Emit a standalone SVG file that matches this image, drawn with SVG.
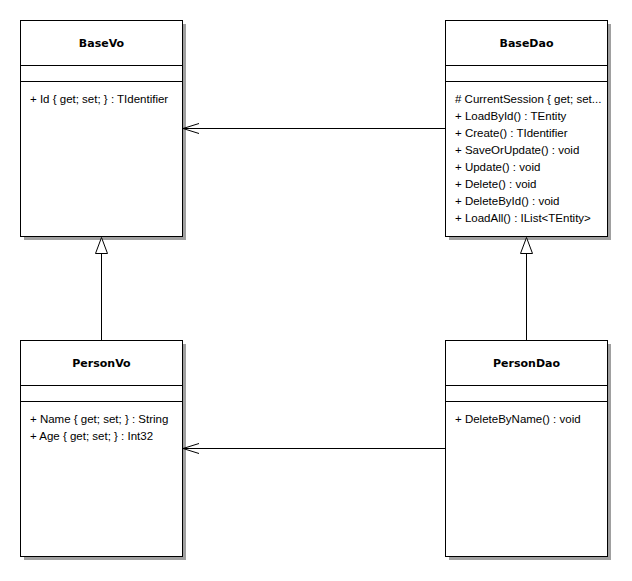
<svg xmlns="http://www.w3.org/2000/svg" width="632" height="581" viewBox="0 0 632 581">
  <style>
    .shadow { fill: #a0a0a0; }
    .box { fill: #ffffff; stroke: #000000; stroke-width: 1; }
    .sep { stroke: #000000; stroke-width: 1; }
    .title { font-family: "DejaVu Sans", Tahoma, sans-serif; font-size: 11px; font-weight: bold; text-anchor: middle; fill: #000; }
    .member { font-family: "Liberation Sans", Arial, sans-serif; font-size: 11.5px; fill: #000; }
    .link { stroke: #000000; stroke-width: 1; fill: none; }
    .head { stroke: #000000; stroke-width: 1; fill: #ffffff; }
  </style>
  <rect width="632" height="581" fill="#ffffff"/>

  <g id="BaseVo">
    <rect class="shadow" x="24" y="24" width="162" height="216"/>
    <rect class="box" x="20.5" y="20.5" width="162" height="216"/>
    <line class="sep" x1="20.5" y1="65.5" x2="182.5" y2="65.5"/>
    <line class="sep" x1="20.5" y1="81.5" x2="182.5" y2="81.5"/>
    <text class="title" x="101.5" y="47">BaseVo</text>
    <text class="member" x="30" y="103">+ Id { get; set; } : TIdentifier</text>
  </g>

  <g id="BaseDao">
    <rect class="shadow" x="449" y="24" width="162" height="216"/>
    <rect class="box" x="445.5" y="20.5" width="162" height="216"/>
    <line class="sep" x1="445.5" y1="65.5" x2="607.5" y2="65.5"/>
    <line class="sep" x1="445.5" y1="81.5" x2="607.5" y2="81.5"/>
    <text class="title" x="526.5" y="47">BaseDao</text>
    <text class="member" x="455" y="103"># CurrentSession { get; set...</text>
    <text class="member" x="455" y="120">+ LoadById() : TEntity</text>
    <text class="member" x="455" y="137">+ Create() : TIdentifier</text>
    <text class="member" x="455" y="154">+ SaveOrUpdate() : void</text>
    <text class="member" x="455" y="171">+ Update() : void</text>
    <text class="member" x="455" y="188">+ Delete() : void</text>
    <text class="member" x="455" y="205">+ DeleteById() : void</text>
    <text class="member" x="455" y="222">+ LoadAll() : IList&lt;TEntity&gt;</text>
  </g>

  <g id="PersonVo">
    <rect class="shadow" x="24" y="344" width="162" height="216"/>
    <rect class="box" x="20.5" y="340.5" width="162" height="216"/>
    <line class="sep" x1="20.5" y1="385.5" x2="182.5" y2="385.5"/>
    <line class="sep" x1="20.5" y1="401.5" x2="182.5" y2="401.5"/>
    <text class="title" x="101.5" y="367">PersonVo</text>
    <text class="member" x="30" y="423">+ Name { get; set; } : String</text>
    <text class="member" x="30" y="440">+ Age { get; set; } : Int32</text>
  </g>

  <g id="PersonDao">
    <rect class="shadow" x="449" y="344" width="162" height="216"/>
    <rect class="box" x="445.5" y="340.5" width="162" height="216"/>
    <line class="sep" x1="445.5" y1="385.5" x2="607.5" y2="385.5"/>
    <line class="sep" x1="445.5" y1="401.5" x2="607.5" y2="401.5"/>
    <text class="title" x="526.5" y="367">PersonDao</text>
    <text class="member" x="455" y="423">+ DeleteByName() : void</text>
  </g>

  <g id="connectors">
    <!-- associations with open arrowheads -->
    <line class="link" x1="445" y1="128.5" x2="183" y2="128.5"/>
    <path class="link" d="M199,123.5 L183,128.5 L199,133.5"/>
    <line class="link" x1="445" y1="448.5" x2="183" y2="448.5"/>
    <path class="link" d="M199,443.5 L183,448.5 L199,453.5"/>
    <!-- generalizations with hollow triangles -->
    <line class="link" x1="101.5" y1="340" x2="101.5" y2="253.5"/>
    <path class="head" d="M101.5,237.5 L95.5,253.5 L107.5,253.5 Z"/>
    <line class="link" x1="526.5" y1="340" x2="526.5" y2="253.5"/>
    <path class="head" d="M526.5,237.5 L520.5,253.5 L532.5,253.5 Z"/>
  </g>
</svg>
